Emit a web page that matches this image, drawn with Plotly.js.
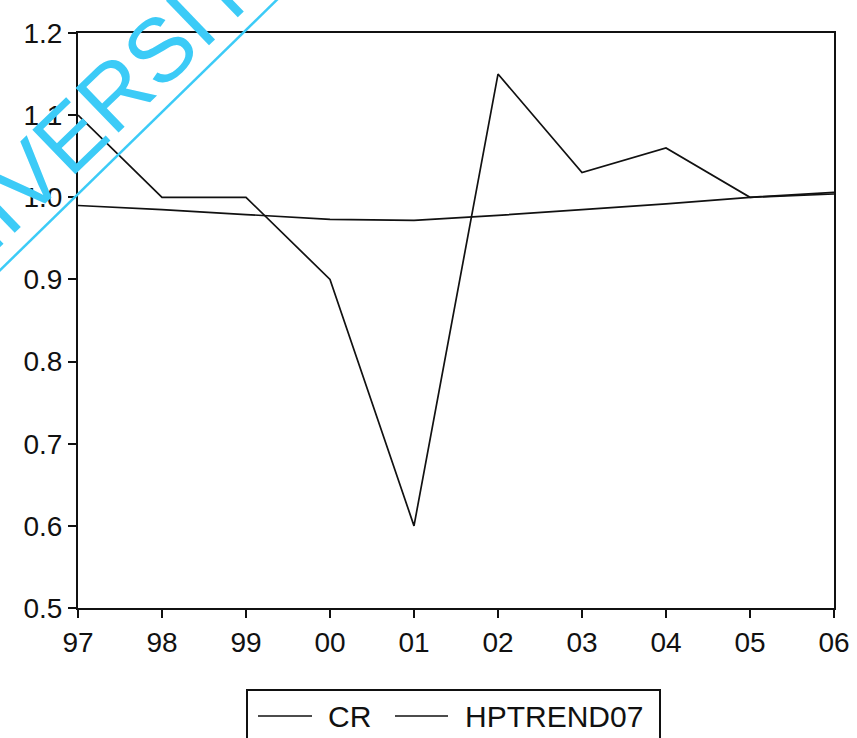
<!DOCTYPE html>
<html>
<head>
<meta charset="utf-8">
<script src="https://cdn.plot.ly/plotly-3.0.1.min.js"></script>
<style>html,body{margin:0;padding:0;background:#fff;}#chart{width:857px;height:738px;}</style>
</head>
<body>
<div id="chart"></div>
<script>
const years = ['97','98','99','00','01','02','03','04','05','06'];
const cr = [1.10, 1.00, 1.00, 0.90, 0.60, 1.15, 1.03, 1.06, 1.00, 1.006];
const hptrend07 = [0.990, 0.985, 0.979, 0.973, 0.972, 0.978, 0.985, 0.992, 1.000, 1.004];
const yTicks = [0.5, 0.6, 0.7, 0.8, 0.9, 1.0, 1.1, 1.2];
const seriesNames = ['CR', 'HPTREND07'];
const watermark = 'UNIVERSITY';

const idx = years.map((_, i) => i);
const font = 'Liberation Sans, Arial, sans-serif';
const ink = '#111';

const traces = [
  {x: idx, y: cr, name: seriesNames[0], type: 'scatter', mode: 'lines', line: {color: ink, width: 1.7}, showlegend: false},
  {x: idx, y: hptrend07, name: seriesNames[1], type: 'scatter', mode: 'lines', line: {color: ink, width: 1.7}, showlegend: false}
];

// plot area in pixels: left 78, right 834, top 33, bottom 608
const PX = px => (px - 78) / 756;
const PY = py => (608 - py) / 575;

const legendShapes = [
  {type: 'rect', xref: 'paper', yref: 'paper', x0: PX(247), x1: PX(660), y0: PY(760), y1: PY(690),
   line: {color: ink, width: 2}, fillcolor: 'rgba(0,0,0,0)'},
  {type: 'line', xref: 'paper', yref: 'paper', x0: PX(258), x1: PX(312), y0: PY(716), y1: PY(716), line: {color: ink, width: 1.7}},
  {type: 'line', xref: 'paper', yref: 'paper', x0: PX(395), x1: PX(448), y0: PY(716), y1: PY(716), line: {color: ink, width: 1.7}}
];
const legendTexts = [
  {xref: 'paper', yref: 'paper', x: PX(326), y: PY(716), text: seriesNames[0], showarrow: false,
   xanchor: 'left', yanchor: 'middle', font: {family: font, size: 30, color: ink}},
  {xref: 'paper', yref: 'paper', x: PX(463), y: PY(716), text: seriesNames[1], showarrow: false,
   xanchor: 'left', yanchor: 'middle', font: {family: font, size: 30, color: ink}}
];

const layout = {
  width: 857, height: 738,
  margin: {l: 78, r: 23, t: 33, b: 130, autoexpand: false},
  paper_bgcolor: '#fff', plot_bgcolor: '#fff',
  font: {family: font, color: ink, size: 28},
  showlegend: false,
  xaxis: {
    range: [0, 9], tickvals: idx, ticktext: years,
    showgrid: false, zeroline: false,
    showline: true, linecolor: ink, linewidth: 2, mirror: true,
    ticks: 'outside', ticklen: 8, tickwidth: 2, tickcolor: ink,
    tickfont: {family: font, size: 28, color: ink}
  },
  yaxis: {
    range: [0.5, 1.2], tickvals: yTicks, tickformat: '.1f',
    showgrid: false, zeroline: false,
    showline: true, linecolor: ink, linewidth: 2, mirror: true,
    ticks: 'outside', ticklen: 8, tickwidth: 2, tickcolor: ink,
    tickfont: {family: font, size: 28, color: ink}
  },
  shapes: [
    {type: 'line', xref: 'paper', yref: 'paper', x0: PX(-10), y0: PY(280), x1: PX(290), y1: PY(-13),
     line: {color: '#3ccbf7', width: 2.5}}
  ].concat(legendShapes),
  annotations: [
    {xref: 'paper', yref: 'paper', x: PX(88), y: PY(119),
     text: watermark, showarrow: false, textangle: -44,
     xanchor: 'center', yanchor: 'middle',
     font: {family: font, size: 90, color: '#3ccbf7'}}
  ].concat(legendTexts)
};

Plotly.newPlot('chart', traces, layout, {displayModeBar: false, staticPlot: true});
</script>
</body>
</html>
